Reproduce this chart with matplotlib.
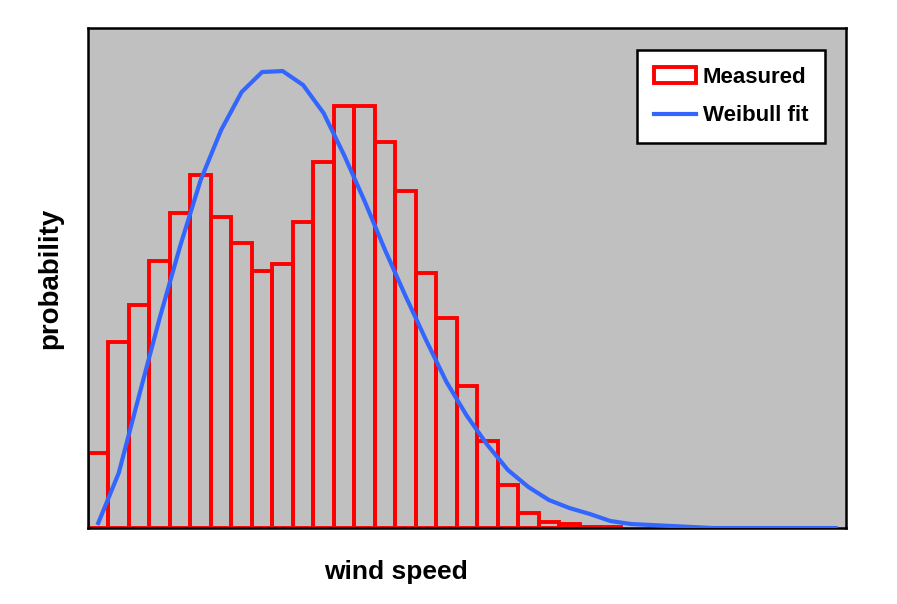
"""Measured wind speed histogram with a Weibull fit overlaid."""

import matplotlib
matplotlib.use("Agg")
import matplotlib.pyplot as plt
import numpy as np

# ── data (arbitrary probability units) ──
measured = [75, 186, 223, 267, 315, 353, 311, 285, 257, 264, 306, 366, 422,
            422, 386, 337, 255, 210, 142, 87, 43, 15, 6, 4, 1, 1]
weibull_fit = [5, 55, 133, 210, 282, 348, 398, 436, 456, 457, 443, 415, 373,
               327, 278, 232, 188, 146, 112, 83, 58, 41, 28, 20, 14, 7, 4, 3,
               2, 1, 0, 0, 0, 0, 0, 0, 0]
n_bins = 37

plt.rcParams["font.family"] = ["Liberation Sans", "DejaVu Sans"]

fig = plt.figure(figsize=(8.97, 6.04), dpi=100, facecolor="white")
ax = fig.add_axes([0.0981, 0.1258, 0.845, 0.8278])
ax.set_facecolor("#c0c0c0")

edges = np.arange(len(measured))
bars = ax.bar(edges, measured, width=1.0, align="edge", facecolor="none",
              edgecolor="#ff0000", linewidth=2.8, zorder=2)

centers = np.arange(len(weibull_fit)) + 0.5
line, = ax.plot(centers, weibull_fit, color="#3366ff", linewidth=3.0,
                zorder=3)

ax.set_xlim(0, n_bins)
ax.set_ylim(0, 500)
ax.set_xticks([])
ax.set_yticks([])
for sp in ax.spines.values():
    sp.set_linewidth(1.8)
    sp.set_color("black")

# the x label sits left of the axes centre in the original
ax.set_xlabel("wind speed", fontsize=19, fontweight="bold", labelpad=22)
ax.xaxis.set_label_coords(0.406, -0.063)
ax.set_ylabel("probability", fontsize=20, fontweight="bold", labelpad=18)

leg = ax.legend([bars, line], ["Measured", "Weibull fit"],
                loc="upper right", bbox_to_anchor=(0.972, 0.956),
                borderaxespad=0, prop={"weight": "bold", "size": 16},
                fancybox=False, framealpha=1, edgecolor="black",
                labelspacing=0.8, handlelength=1.9, borderpad=0.75,
                handletextpad=0.3)
leg.get_frame().set_linewidth(1.8)

fig.savefig("out.png", dpi=100, facecolor=fig.get_facecolor())
